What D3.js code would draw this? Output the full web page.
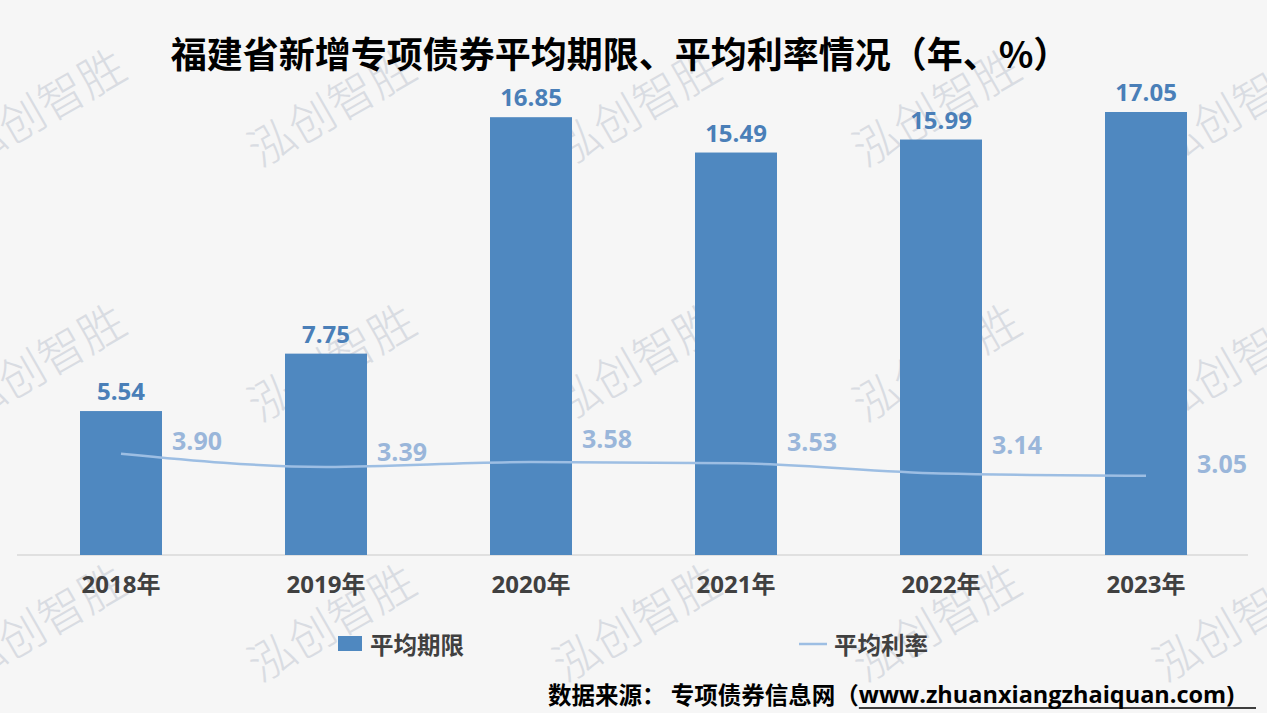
<!DOCTYPE html>
<html><head><meta charset="utf-8">
<script src="https://cdn.jsdelivr.net/npm/d3@7/dist/d3.min.js"></script>
<style>
html,body{margin:0;padding:0;background:#f6f6f6;}
svg{display:block;}
</style></head><body>
<script>
const categories = ["2018年","2019年","2020年","2021年","2022年","2023年"];
const avgTerm = [5.54, 7.75, 16.85, 15.49, 15.99, 17.05];
const avgRate = [3.90, 3.39, 3.58, 3.53, 3.14, 3.05];
const rateLabels = ["3.90","3.39","3.58","3.53","3.14","3.05"];
const termLabels = ["5.54","7.75","16.85","15.49","15.99","17.05"];
const seriesNames = ["平均期限","平均利率"];
const title = "福建省新增专项债券平均期限、平均利率情况（年、%）";
const watermark = "泓创智胜";

const W = 1267, H = 713;
const FONT = "'Open Sans','Noto Sans CJK SC',sans-serif";
const CJK = "'Noto Sans CJK SC','Open Sans',sans-serif";
const svg = d3.select("body").append("svg").attr("width", W).attr("height", H);
svg.append("rect").attr("width", W).attr("height", H).attr("fill", "#f6f6f6");

// watermarks (behind the chart)
const wmG = svg.append("g");
const wmX = [40, 330, 635, 935, 1235];
const wmY = [105, 360, 620];
wmY.forEach(yy => wmX.forEach(xx => {
  wmG.append("text").attr("transform", `translate(${xx},${yy}) rotate(-30)`)
    .attr("text-anchor", "middle").attr("dominant-baseline", "central")
    .attr("font-family", CJK).attr("font-weight", 300).attr("font-size", 46)
    .attr("fill", "#d9dce2").text(watermark);
}));

const x = d3.scaleBand().domain(categories).range([18.5, 1248.5]).paddingInner(0.6).paddingOuter(0.3);
const y = d3.scaleLinear().domain([0, 17.05]).range([555, 112]);

// baseline
svg.append("line").attr("x1", 17).attr("x2", 1248).attr("y1", y(0)).attr("y2", y(0))
  .attr("stroke", "#d9d9d9").attr("stroke-width", 1.5);

// bars
svg.append("g").selectAll("rect").data(avgTerm).join("rect")
  .attr("x", (d, i) => x(categories[i])).attr("width", x.bandwidth())
  .attr("y", d => y(d)).attr("height", d => y(0) - y(d))
  .attr("fill", "#4f88c0");

// bar labels
svg.append("g").selectAll("text").data(avgTerm).join("text")
  .attr("x", (d, i) => x(categories[i]) + x.bandwidth() / 2)
  .attr("y", d => y(d) - 11)
  .attr("text-anchor", "middle").attr("font-family", FONT).attr("font-weight", 700)
  .attr("font-size", 24).attr("fill", "#4a7fb8").text((d, i) => termLabels[i]);

// line
const cx = i => x(categories[i]) + x.bandwidth() / 2;
const line = d3.line().x((d, i) => cx(i)).y(d => y(d)).curve(d3.curveMonotoneX);
svg.append("path").datum(avgRate).attr("d", line).attr("fill", "none")
  .attr("stroke", "#9dbee3").attr("stroke-width", 2.5);

// line labels
const labelDy = [-14, -16, -24, -22, -29, -13];
svg.append("g").selectAll("text").data(avgRate).join("text")
  .attr("x", (d, i) => cx(i) + 76)
  .attr("y", (d, i) => y(d) + labelDy[i])
  .attr("text-anchor", "middle").attr("dominant-baseline", "central")
  .attr("font-family", FONT).attr("font-weight", 700)
  .attr("font-size", 25).attr("fill", "#9ab6da").text((d, i) => rateLabels[i]);

// x axis
const xAxis = svg.append("g").attr("transform", `translate(0,${y(0)})`)
  .call(d3.axisBottom(x).tickSize(0).tickPadding(30));
xAxis.select(".domain").remove();
xAxis.selectAll("text").attr("font-family", FONT).attr("font-weight", 700)
  .attr("font-size", 24).attr("fill", "#404040").attr("dy", "0.32em").attr("y", 30);

// title
svg.append("text").attr("x", 620).attr("y", 52).attr("text-anchor", "middle")
  .attr("dominant-baseline", "central").attr("font-family", CJK).attr("font-weight", 700)
  .attr("font-size", 36).attr("fill", "#000").text(title);

// legend
const lg = svg.append("g");
lg.append("rect").attr("x", 338).attr("y", 636).attr("width", 24).attr("height", 15).attr("fill", "#4f88c0");
lg.append("text").attr("x", 370).attr("y", 644).attr("dominant-baseline", "central")
  .attr("font-family", CJK).attr("font-weight", 700).attr("font-size", 23.5).attr("fill", "#404040").text(seriesNames[0]);
lg.append("line").attr("x1", 799).attr("x2", 827).attr("y1", 644).attr("y2", 644)
  .attr("stroke", "#9dbee3").attr("stroke-width", 2.5);
lg.append("text").attr("x", 834).attr("y", 644).attr("dominant-baseline", "central")
  .attr("font-family", CJK).attr("font-weight", 700).attr("font-size", 23.5).attr("fill", "#404040").text(seriesNames[1]);

// source
const src = svg.append("text").attr("x", 548).attr("y", 694).attr("dominant-baseline", "central")
  .attr("font-family", FONT).attr("font-weight", 700).attr("font-size", 23.5).attr("fill", "#000");
src.append("tspan").attr("font-family", CJK).text("数据来源： 专项债券信息网（");
const urlSpan = src.append("tspan").text("www.zhuanxiangzhaiquan.com)");
const start = urlSpan.node().getStartPositionOfChar(0).x;
svg.append("line").attr("x1", start).attr("x2", 1256).attr("y1", 708).attr("y2", 708)
  .attr("stroke", "#000").attr("stroke-width", 1.5);
</script>
</body></html>
